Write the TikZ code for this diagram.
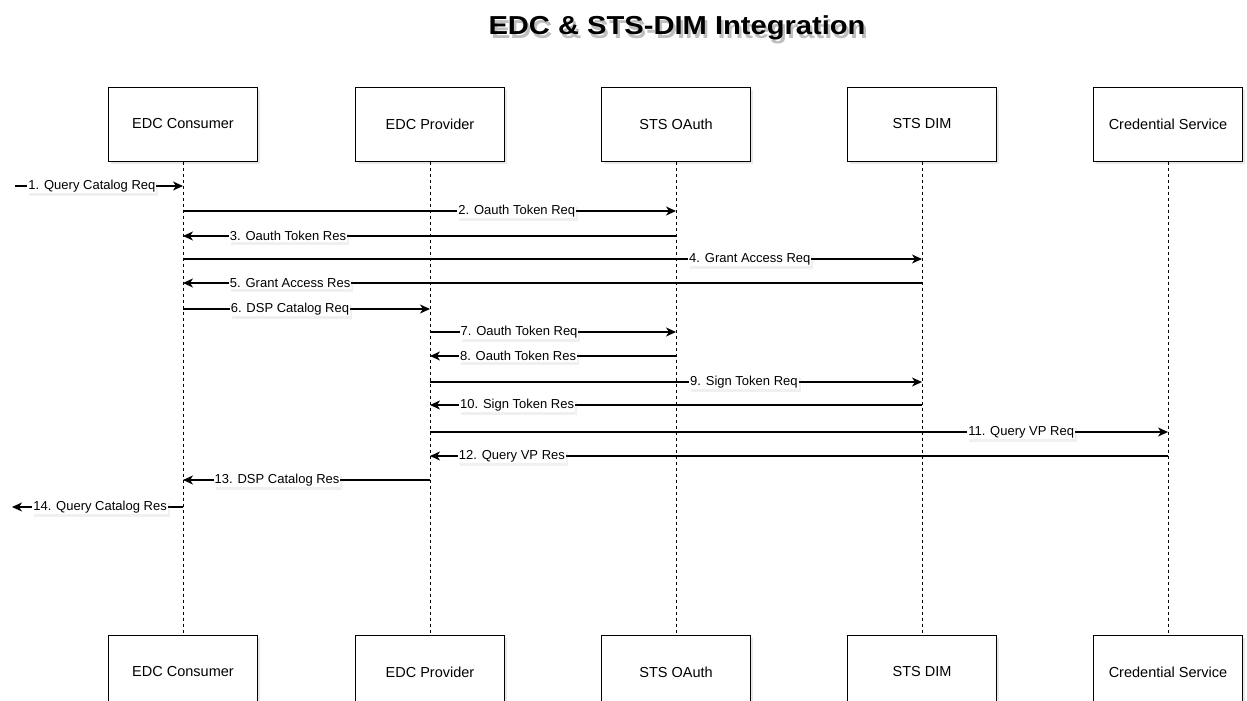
\documentclass[tikz,border=0pt]{standalone}
\usepackage{fontspec}
\setmainfont{Liberation Sans}
\usetikzlibrary{arrows.meta,shadows}
\tikzstyle{actorBox}=[shape = rectangle, draw, line width = 1pt, fill = white, minimum width = 149pt, minimum height = 74pt, font = \fontsize{14.5}{17}\selectfont, drop shadow = {shadow xshift = 2.5pt, shadow yshift = -3pt, opacity = 0.18}]
\tikzstyle{msgLabel}=[fill = white, inner sep = 1pt, font = \fontsize{13}{15}\selectfont, drop shadow = {shadow xshift = 2pt, shadow yshift = -3pt, opacity = 0.12}]

\begin{document}
\begin{tikzpicture}[x = 1pt, y = -1pt]
\tikzstyle{lifeLine}=[dash pattern = on 3pt off 3pt, line width = 0.9pt]
\tikzstyle{msgStyle}=[-{Stealth[length = 10pt, width = 9pt, inset = 3pt]}, line width = 1.1pt]
\tikzstyle{titleStyle}=[anchor = base, inner sep = 0pt, font = \fontsize{26}{30}\selectfont\bfseries]
\useasboundingbox (0,0) rectangle (1247,701);
\clip (0,0) rectangle (1247,701);
% title
\node[titleStyle, text = black!25] (titleshadow) at (679.5,38) {\scalebox{1.12}[1]{EDC \& STS-DIM Integration}};
\node[titleStyle] (title) at (677,35) {\scalebox{1.12}[1]{EDC \& STS-DIM Integration}};
% participants
\node[actorBox] (t0) at (183,124) {EDC Consumer};
\node[actorBox] (t1) at (430,124) {EDC Provider};
\node[actorBox] (t2) at (676,124) {STS OAuth};
\node[actorBox] (t3) at (922,124) {STS DIM};
\node[actorBox] (t4) at (1168,124) {Credential Service};
\node[actorBox] (b0) at (183,672) {EDC Consumer};
\node[actorBox] (b1) at (430,672) {EDC Provider};
\node[actorBox] (b2) at (676,672) {STS OAuth};
\node[actorBox] (b3) at (922,672) {STS DIM};
\node[actorBox] (b4) at (1168,672) {Credential Service};
\draw[lifeLine] (t0) -- (b0);
\draw[lifeLine] (t1) -- (b1);
\draw[lifeLine] (t2) -- (b2);
\draw[lifeLine] (t3) -- (b3);
\draw[lifeLine] (t4) -- (b4);
% messages
\coordinate (qin) at (15,186);
\coordinate (qout) at (12,507);
\draw[msgStyle] (qin) -- (t0 |- 0,186) node[msgLabel, pos = 0.458] {1. Query Catalog Req};
\draw[msgStyle] (t0 |- 0,211) -- (t2 |- 0,211) node[msgLabel, pos = 0.677] {2. Oauth Token Req};
\draw[msgStyle] (t2 |- 0,236) -- (t0 |- 0,236) node[msgLabel, pos = 0.787] {3. Oauth Token Res};
\draw[msgStyle] (t0 |- 0,259) -- (t3 |- 0,259) node[msgLabel, pos = 0.767] {4. Grant Access Req};
\draw[msgStyle] (t3 |- 0,283) -- (t0 |- 0,283) node[msgLabel, pos = 0.855] {5. Grant Access Res};
\draw[msgStyle] (t0 |- 0,309) -- (t1 |- 0,309) node[msgLabel, pos = 0.433] {6. DSP Catalog Req};
\draw[msgStyle] (t1 |- 0,332) -- (t2 |- 0,332) node[msgLabel, pos = 0.362] {7. Oauth Token Req};
\draw[msgStyle] (t2 |- 0,356) -- (t1 |- 0,356) node[msgLabel, pos = 0.642] {8. Oauth Token Res};
\draw[msgStyle] (t1 |- 0,382) -- (t3 |- 0,382) node[msgLabel, pos = 0.638] {9. Sign Token Req};
\draw[msgStyle] (t3 |- 0,405) -- (t1 |- 0,405) node[msgLabel, pos = 0.823] {10. Sign Token Res};
\draw[msgStyle] (t1 |- 0,432) -- (t4 |- 0,432) node[msgLabel, pos = 0.801] {11. Query VP Req};
\draw[msgStyle] (t4 |- 0,456) -- (t1 |- 0,456) node[msgLabel, pos = 0.889] {12. Query VP Res};
\draw[msgStyle] (t1 |- 0,480) -- (t0 |- 0,480) node[msgLabel, pos = 0.619] {13. DSP Catalog Res};
\draw[msgStyle] (t0 |- 0,507) -- (qout) node[msgLabel, pos = 0.485] {14. Query Catalog Res};
\end{tikzpicture}
\end{document}
